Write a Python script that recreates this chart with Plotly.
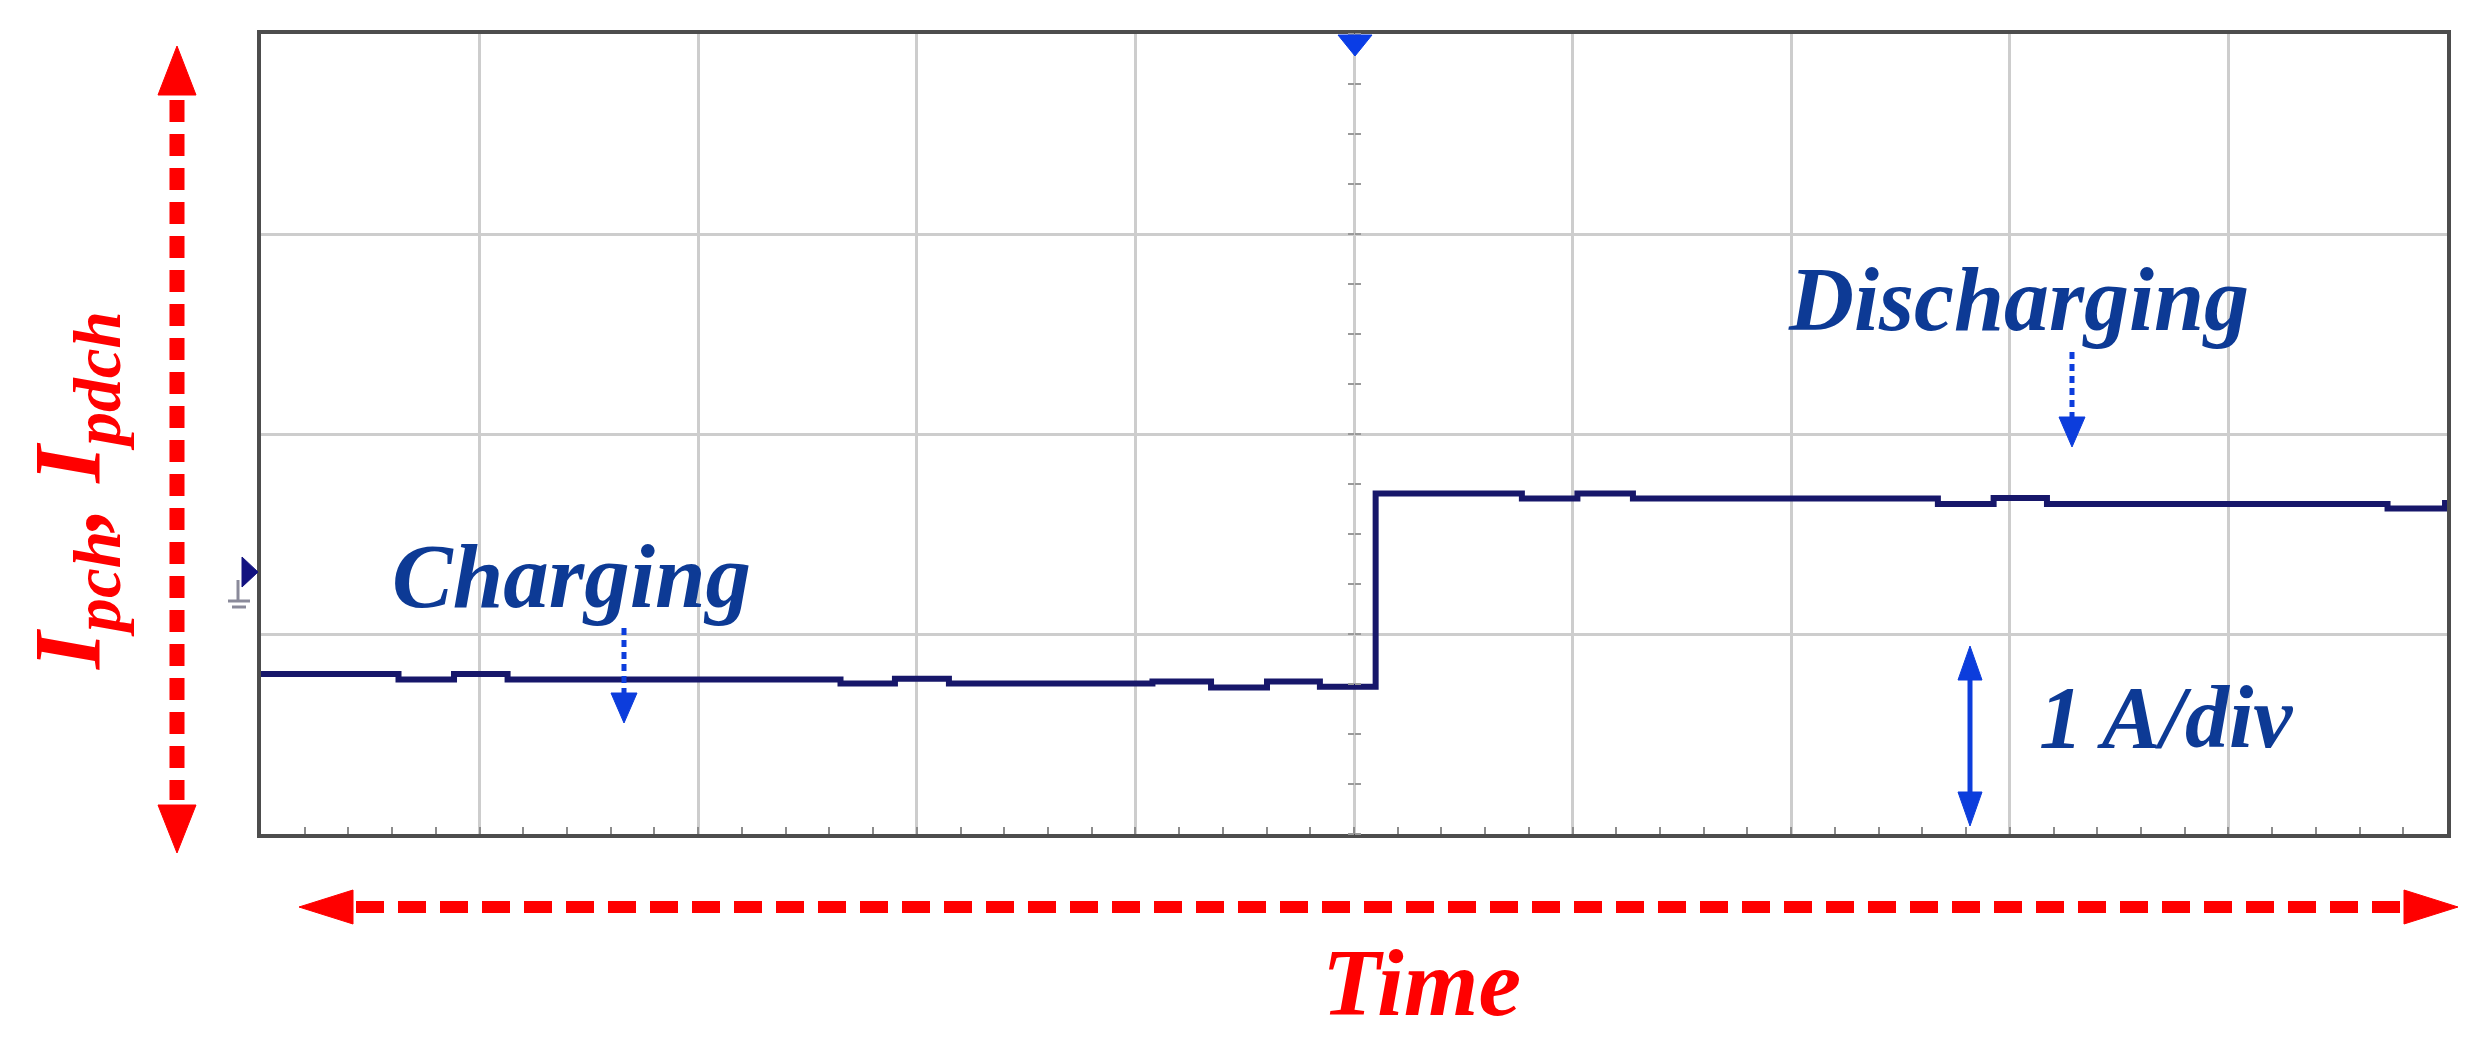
import plotly.graph_objects as go

# scope capture: current of the port during charging -> discharging
# x is in time divisions (10 div across), y in A (1 A/div), ground marker at 0 A
time_div = [0.0, 0.629, 0.883, 1.128, 2.651, 2.900, 3.147, 4.078, 4.346, 4.602,
            4.844, 5.099, 5.768, 6.022, 6.276, 7.671, 7.926, 8.170, 9.728, 9.991]
current_a = [-0.500, -0.527, -0.500, -0.527, -0.548, -0.524, -0.548, -0.537, -0.567, -0.537,
             -0.564, 0.403, 0.377, 0.403, 0.377, 0.350, 0.380, 0.350, 0.327, 0.370]

W, H = 2487, 1041
L, R, T, B = 261, 40, 34, 207
SERIF = "Liberation Serif, Times New Roman, serif"
RED = "#ff0000"
NAVY = "#17176a"
TXT_BLUE = "#0d3a95"
ARR_BLUE = "#0c3ddc"


def pp(x, y):
    # pixel position on the page -> paper coordinates
    return (x - L) / (W - L - R), (H - B - y) / (H - T - B)


def tri(p1, p2, p3, color):
    (x1, y1), (x2, y2), (x3, y3) = pp(*p1), pp(*p2), pp(*p3)
    return dict(type="path", xref="paper", yref="paper",
                path=f"M{x1},{y1} L{x2},{y2} L{x3},{y3} Z",
                fillcolor=color, line=dict(color=color, width=1), layer="above")


def seg(p1, p2, color, width, dash="solid"):
    (x0, y0), (x1, y1) = pp(*p1), pp(*p2)
    return dict(type="line", xref="paper", yref="paper", x0=x0, y0=y0, x1=x1, y1=y1,
                line=dict(color=color, width=width, dash=dash), layer="above")


fig = go.Figure()

fig.add_trace(go.Scatter(
    x=time_div, y=current_a, mode="lines", line_shape="hv",
    line=dict(color=NAVY, width=6), showlegend=False, hoverinfo="skip"
))
# dummy traces so the centre-line tick axes get drawn
fig.add_trace(go.Scatter(x=[None], y=[None], yaxis="y2", showlegend=False, hoverinfo="skip"))
fig.add_trace(go.Scatter(x=[None], y=[None], yaxis="y3", showlegend=False, hoverinfo="skip"))

shapes = [
    # red vertical double arrow (current axis)
    seg((177, 100), (177, 800), RED, 15, "22px,12px"),
    tri((177, 46), (158, 95), (196, 95), RED),
    tri((177, 853), (158, 805), (196, 805), RED),
    # red horizontal double arrow (time axis)
    seg((356, 907), (2402, 907), RED, 12, "28px,14px"),
    tri((299, 907), (353, 890), (353, 924), RED),
    tri((2458, 907), (2404, 890), (2404, 924), RED),
    # dotted pointer arrows
    seg((624, 628), (624, 695), ARR_BLUE, 5, "7px,5px"),
    tri((624, 723), (611, 693), (637, 693), ARR_BLUE),
    seg((2072, 352), (2072, 419), ARR_BLUE, 5, "7px,5px"),
    tri((2072, 447), (2059, 417), (2085, 417), ARR_BLUE),
    # 1 A/div scale arrow
    seg((1970, 672), (1970, 800), ARR_BLUE, 5),
    tri((1970, 646), (1958, 680), (1982, 680), ARR_BLUE),
    tri((1970, 826), (1958, 792), (1982, 792), ARR_BLUE),
    # trigger marker and ground marker
    tri((1355, 56), (1338, 35), (1372, 35), "#0a3de6"),
    tri((258, 572), (242, 557), (242, 587), "#121280"),
    seg((238, 580), (238, 601), "#8a8a9a", 3),
    seg((228, 601), (250, 601), "#8a8a9a", 3),
    seg((232, 607), (246, 607), "#8a8a9a", 3),
]

annotations = []


def label(text, x, y, size, color, bold=True, angle=0):
    px_, py_ = pp(x, y)
    annotations.append(dict(
        text=text, x=px_, y=py_, xref="paper", yref="paper",
        xanchor="center", yanchor="middle", showarrow=False, textangle=angle,
        font=dict(family=SERIF, size=size, color=color, style="italic",
                  weight="bold" if bold else "normal")
    ))


label("Charging", 571, 576, 91, TXT_BLUE)
label("Discharging", 2018, 299, 90, TXT_BLUE)
label("1 A/div", 2166, 717, 88, TXT_BLUE)
label("Time", 1421, 982, 96, RED)
label("I<sub>pch</sub>, I<sub>pdch</sub>", 74, 491, 96, RED, angle=-90)

grid_col = "#cdcdcd"
frame_col = "#4d4d4d"

fig.update_layout(
    width=W, height=H,
    margin=dict(l=L, r=R, t=T, b=B, pad=0),
    paper_bgcolor="white", plot_bgcolor="white",
    showlegend=False,
    shapes=shapes, annotations=annotations,
    xaxis=dict(
        range=[0, 10], tick0=0, dtick=1, showticklabels=False,
        showgrid=True, gridcolor=grid_col, gridwidth=3, zeroline=False,
        showline=True, linecolor=frame_col, linewidth=4, mirror=True,
        ticks="inside", ticklen=7, tickwidth=2, tickcolor="#8c8c8c",
        minor=dict(dtick=0.2, tick0=0, ticks="inside", ticklen=7,
                   tickwidth=2, tickcolor="#8c8c8c", showgrid=False),
    ),
    yaxis=dict(
        range=[-1.3, 2.7], tick0=-0.3, dtick=1, showticklabels=False,
        showgrid=True, gridcolor=grid_col, gridwidth=3, zeroline=False,
        showline=True, linecolor=frame_col, linewidth=4, mirror=True, ticks="",
    ),
    # tick marks crossing the centre vertical graticule line
    yaxis2=dict(
        overlaying="y", anchor="free", position=0.5, side="left",
        range=[-1.3, 2.7], tick0=-0.3, dtick=0.25, showticklabels=False,
        showgrid=False, zeroline=False, showline=False,
        ticks="outside", ticklen=6, tickwidth=2, tickcolor="#9a9a9a",
    ),
    yaxis3=dict(
        overlaying="y", anchor="free", position=0.5, side="right",
        range=[-1.3, 2.7], tick0=-0.3, dtick=0.25, showticklabels=False,
        showgrid=False, zeroline=False, showline=False,
        ticks="outside", ticklen=6, tickwidth=2, tickcolor="#9a9a9a",
    ),
)

# drop the default 8px body margin so the figure sits at the page corner
fig.write_html("out.html", config={"displayModeBar": False},
               post_script="document.body.style.margin='0';")
